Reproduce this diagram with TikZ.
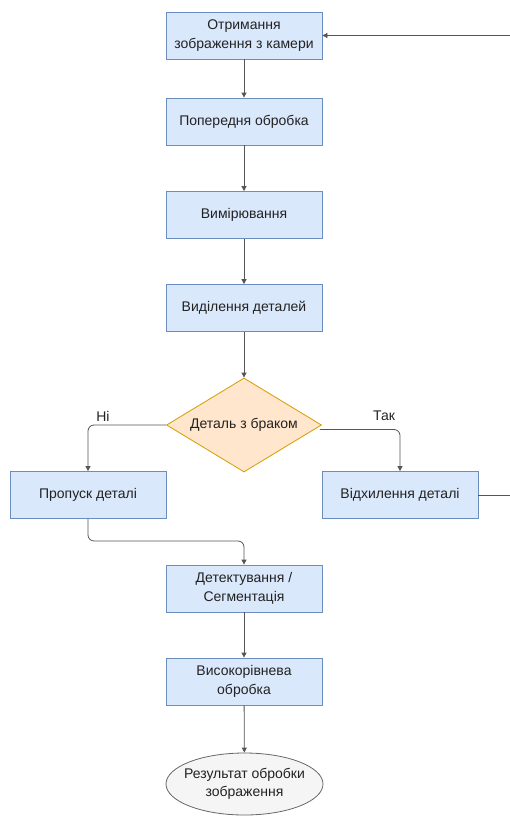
\documentclass[tikz,border=0pt]{standalone}
\usepackage{fontspec}
\setmainfont{Liberation Sans}
\usetikzlibrary{shapes.geometric,arrows.meta,calc}
\definecolor{bfill}{HTML}{DAE8FC}
\definecolor{bdraw}{HTML}{6C8EBF}
\definecolor{dfill}{HTML}{FFE6CC}
\definecolor{ddraw}{HTML}{D79B00}
\definecolor{efill}{HTML}{F5F5F5}
\definecolor{edraw}{HTML}{666666}
\definecolor{lcol}{HTML}{555555}
\definecolor{tcol}{HTML}{222222}
\begin{document}
\begin{tikzpicture}[x=1pt,y=-1pt,
  every node/.style={font=\fontsize{14}{18.5}\selectfont, text=tcol, inner sep=0pt, align=center},
  procbox/.style={draw=bdraw, fill=bfill, line width=0.8pt, minimum width=156pt, minimum height=47pt},
  decis/.style={diamond, draw=ddraw, fill=dfill, line width=0.8pt, minimum width=155pt, minimum height=94pt, aspect=1.65},
  endel/.style={ellipse, draw=edraw, fill=efill, line width=0.8pt, minimum width=157pt, minimum height=62pt},
  conn/.style={draw=lcol, line width=0.8pt, rounded corners=6pt, -{Triangle[width=5pt,length=5pt]}},
  plain/.style={draw=lcol, line width=0.8pt}
]
\useasboundingbox (0,0) rectangle (510,816);
\node[procbox] (b1) at (244,35.5) {Отримання\\зображення з камери};
\node[procbox] (b2) at (244,121.5) {Попередня обробка};
\node[procbox] (b3) at (244,215) {Вимірювання};
\node[procbox] (b4) at (244,308) {Виділення деталей};
\node[decis] (d) at (244,425) {Деталь з браком};
\node[procbox] (pl) at (88,495) {Пропуск деталі};
\node[procbox] (pr) at (400,495) {Відхилення деталі};
\node[procbox] (b5) at (244,588.5) {Детектування /\\Сегментація};
\node[procbox] (b6) at (244,681.5) {Високорівнева\\обробка};
\node[endel, label={center:{Результат обробки\\зображення}}] (e) at (244.5,784) {};
\coordinate (inR) at (510,35.5);
\coordinate (outR) at (510,495);
\coordinate (dR) at ($(d.east)+(-2,4.5)$);
\draw[conn] (inR) -- (b1.east);
\draw[conn] (b1) -- (b2);
\draw[conn] (b2) -- (b3);
\draw[conn] (b3) -- (b4);
\draw[conn] (b4) -- (d);
\draw[conn] (d.west) -| (pl.north);
\draw[conn] (dR) -| (pr.north);
\draw[plain] (pr.east) -- (outR);
\draw[conn] (pl.south) |- (166,541) -| (b5.north);
\draw[conn] (b5) -- (b6);
\draw[conn] (b6) -- (e);
\node[anchor=center] (ni) at (103,416) {Ні};
\node[anchor=center] (tak) at (384,416) {Так};
\end{tikzpicture}
\end{document}
